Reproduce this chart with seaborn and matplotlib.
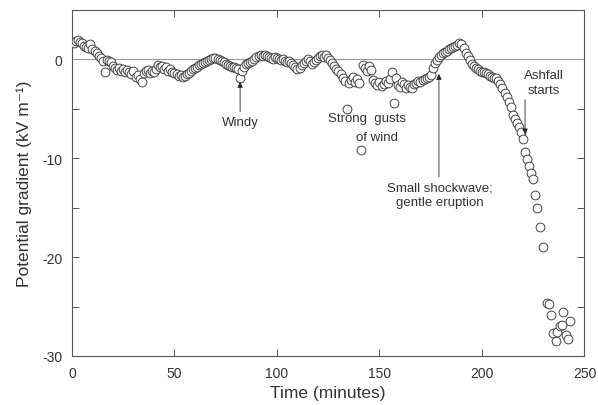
import numpy as np
import matplotlib
matplotlib.use("Agg")
import matplotlib.pyplot as plt
import pandas as pd
import seaborn as sns

# one reading per minute up to 209 min
pg_main = [
    1.6, 1.8, 1.9, 1.7, 1.6, 1.3, 1.2, 1.1, 1.5, 1.0,
    0.8, 0.6, 0.3, 0.1, -0.2, -1.3, -0.1, -0.2, -0.3, -0.7,
    -0.9, -1.1, -0.9, -1.2, -1.0, -1.3, -1.1, -1.3, -1.5, -1.2,
    -1.8, -1.6, -2.0, -2.3, -1.4, -1.2, -1.1, -1.4, -1.2, -1.3,
    -1.0, -0.6, -0.8, -0.7, -1.0, -0.8, -1.2, -1.0, -1.3, -1.4,
    -1.5, -1.7, -1.6, -1.8, -1.7, -1.5, -1.4, -1.2, -1.0, -0.9,
    -0.8, -0.6, -0.5, -0.4, -0.3, -0.2, -0.1, 0.0, 0.1, 0.1,
    0.0, -0.1, -0.2, -0.3, -0.5, -0.6, -0.7, -0.8, -0.8, -0.9,
    -1.0, -1.9, -1.2, -0.8, -0.5, -0.4, -0.3, -0.2, 0.0, 0.2,
    0.3, 0.4, 0.3, 0.4, 0.3, 0.2, 0.1, 0.0, 0.2, 0.1,
    0.0, -0.1, 0.0, -0.2, -0.3, -0.2, -0.4, -0.6, -0.8, -1.0,
    -0.9, -0.6, -0.4, -0.2, 0.0, -0.2, -0.5, -0.3, -0.1, 0.1,
    0.3, 0.4, 0.2, 0.4, 0.1, -0.1, -0.4, -0.7, -1.0, -1.2,
    -1.5, -1.9, -2.2, -5.0, -2.4, -2.1, -1.8, -2.3, -2.0, -2.4,
    -9.2, -0.6, -0.9, -1.2, -0.7, -1.1, -2.1, -2.4, -2.6, -2.3,
    -2.7, -2.5, -2.2, -2.4, -2.0, -1.3, -4.4, -1.9, -2.6, -2.8,
    -2.3, -2.5, -2.9, -2.6, -2.8, -2.9, -2.5, -2.4, -2.2, -2.3,
    -2.1, -2.0, -1.9, -1.8, -1.6, -0.9, -0.4, -0.1, 0.2, 0.4,
    0.6, 0.7, 0.8, 1.0, 1.1, 1.2, 1.3, 1.4, 1.6, 1.5,
    1.1, 0.6, 0.3, -0.1, -0.5, -0.7, -0.9, -1.0, -1.2, -1.3,
    -1.3, -1.4, -1.5, -1.7, -1.8, -1.9, -1.9, -2.2, -2.5,
]
t_main = np.arange(1, len(pg_main) + 1)

# after the eruption readings get sparse
t_tail = [210, 211, 212, 213, 214, 215, 216, 217, 218, 219, 220, 221, 222, 223,
          224, 225, 226, 227, 228.5, 229.8, 231.7, 232.7, 233.7, 234.6, 236,
          236.6, 238, 239, 239.5, 241, 242, 242.9]
pg_tail = [-2.9, -3.4, -3.8, -4.3, -4.8, -5.6, -6.0, -6.4, -6.9, -7.4, -8.1,
           -9.4, -10.1, -10.8, -11.5, -12.1, -13.7, -15.0, -17.0, -19.0, -24.6,
           -24.7, -25.9, -27.7, -28.5, -27.6, -27.0, -26.9, -25.6, -27.9, -28.3,
           -26.5]

df = pd.DataFrame({
    "time": np.concatenate([t_main, t_tail]),
    "pg": pg_main + pg_tail,
})

sns.set_style("ticks")
plt.rcParams["font.family"] = ["Liberation Sans", "DejaVu Sans"]
plt.rcParams["axes.unicode_minus"] = False

fig = plt.figure(figsize=(5.98, 4.06), dpi=100)
ax = fig.add_axes([0.1204, 0.1207, 0.857, 0.8529])

ax.axhline(0, color="#9a9a9a", lw=0.8, zorder=1)
sns.scatterplot(data=df, x="time", y="pg", ax=ax, marker="o", s=40,
                facecolor="white", edgecolor="#444444", linewidth=0.7, zorder=3)

ax.set_xlim(0, 250)
ax.set_ylim(-30, 5)
ax.set_xticks([0, 50, 100, 150, 200, 250])
ax.set_yticks([0, -10, -20, -30])
ax.set_yticks([-5, -15, -25], minor=True)
ax.tick_params(which="both", direction="in", top=True, right=True, length=5,
               width=0.7, color="#555555", labelsize=10, labelcolor="#333333", pad=7)
for sp in ax.spines.values():
    sp.set_color("#555555")
    sp.set_linewidth(0.8)

ax.set_xlabel("Time (minutes)", fontsize=12.5, color="#333333", labelpad=4)
ax.set_ylabel("Potential gradient (kV m⁻¹)", fontsize=12.5, color="#333333", labelpad=7)

arrow = dict(arrowstyle="-|>", lw=0.6, color="#222222", mutation_scale=8,
             shrinkA=0, shrinkB=0)
txt = dict(fontsize=9.5, color="#333333", ha="center", va="center")

ax.annotate("", xy=(82, -2.3), xytext=(82, -5.3), arrowprops=arrow)
ax.text(82, -6.3, "Windy", **txt)

ax.text(144, -5.9, "Strong  gusts", **txt)
ax.text(149, -7.9, "of wind", **txt)

ax.annotate("", xy=(179, -1.5), xytext=(179, -11.9), arrowprops=arrow)
ax.text(179.5, -13.0, "Small shockwave;", **txt)
ax.text(179.5, -14.4, "gentle eruption", **txt)

ax.annotate("", xy=(221, -7.6), xytext=(221, -4.1), arrowprops=arrow)
ax.text(230, -1.6, "Ashfall", **txt)
ax.text(230, -3.1, "starts", **txt)

fig.savefig("out.png", dpi=100)
